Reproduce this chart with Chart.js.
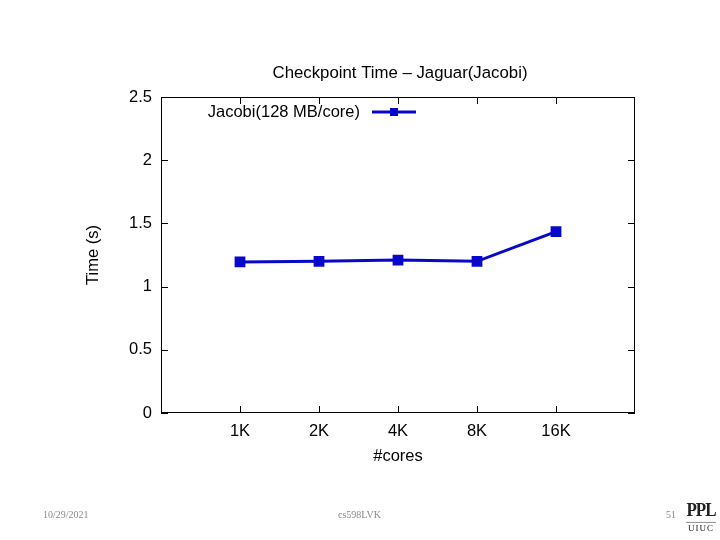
<!DOCTYPE html>
<html>
<head>
<meta charset="utf-8">
<script src="https://cdn.jsdelivr.net/npm/chart.js@4.4.1/dist/chart.umd.min.js"></script>
<style>
  html, body { margin: 0; padding: 0; background: #fff; }
  #wrap { position: relative; width: 720px; height: 540px; overflow: hidden; }
  canvas { position: absolute; left: 0; top: 0; }
  .foot { position: absolute; font-family: "Liberation Serif", "DejaVu Serif", serif; font-size: 10px; line-height: 12px; color: #8a8a8a; }
  #logo { position: absolute; left: 686px; top: 502px; width: 30px; text-align: center; font-family: "Liberation Serif", serif; color: #222; }
  #logo .ppl { font-size: 17px; font-weight: bold; line-height: 17px; letter-spacing: -1px; padding-bottom: 2px; border-bottom: 1px solid #999; transform: scaleY(1.1); }
  #logo .uiuc { font-size: 9px; line-height: 13px; letter-spacing: 1px; }
</style>
</head>
<body>
<div id="wrap">
  <canvas id="chart" width="720" height="540"></canvas>
  <div class="foot" style="left:43px; top:509px;">10/29/2021</div>
  <div class="foot" style="left:338px; top:509px;">cs598LVK</div>
  <div class="foot" style="left:666px; top:509px;">51</div>
  <div id="logo"><div class="ppl">PPL</div><div class="uiuc">UIUC</div></div>
</div>
<script>
// data
const coreLabels = ['1K', '2K', '4K', '8K', '16K'];
const coreSlots = [1, 2, 3, 4, 5];
const checkpointTime = [1.195, 1.20, 1.21, 1.20, 1.435];
const yTicks = [0, 0.5, 1, 1.5, 2, 2.5];

const chartTitle = 'Checkpoint Time \u2013 Jaguar(Jacobi)';
const seriesColor = '#0808cc';
const font = { family: '"Liberation Sans", Arial, Helvetica, sans-serif', size: 16.5 };

// gnuplot style: box around plot with inward ticks on all four sides
const frameTicks = {
    id: 'frameTicks',
    afterDatasetsDraw(chart) {
        const { ctx, chartArea: a, scales } = chart;
        const len = 7;
        ctx.save();
        ctx.strokeStyle = '#000';
        ctx.lineWidth = 1;
        ctx.strokeRect(a.left + 0.5, a.top + 0.5, a.right - a.left - 1, a.bottom - a.top - 1);
        ctx.beginPath();
        coreSlots.forEach(v => {
            const x = Math.round(scales.x.getPixelForValue(v)) + 0.5;
            ctx.moveTo(x, a.bottom); ctx.lineTo(x, a.bottom - len);
            ctx.moveTo(x, a.top); ctx.lineTo(x, a.top + len);
        });
        yTicks.forEach(v => {
            const y = Math.round(scales.y.getPixelForValue(v)) + 0.5;
            ctx.moveTo(a.left, y); ctx.lineTo(a.left + len, y);
            ctx.moveTo(a.right, y); ctx.lineTo(a.right - len, y);
        });
        ctx.stroke();
        ctx.restore();
    }
};

// title centred over the plot box, legend gnuplot style (text, then line sample with marker)
const keyPlugin = {
    id: 'keyPlugin',
    afterDatasetsDraw(chart) {
        const { ctx, chartArea: a } = chart;
        const ds = chart.data.datasets[0];
        ctx.save();
        ctx.fillStyle = '#000';
        ctx.textBaseline = 'middle';
        ctx.font = `16.8px ${font.family}`;
        ctx.textAlign = 'center';
        ctx.fillText(chartTitle, (a.left + a.right) / 2 + 2, a.top - 24);

        const textRight = a.left + 199;
        const y = a.top + 15;
        ctx.font = `${font.size}px ${font.family}`;
        ctx.textAlign = 'right';
        ctx.fillText(ds.label, textRight, y);
        const x0 = textRight + 12, x1 = textRight + 56;
        ctx.strokeStyle = seriesColor;
        ctx.lineWidth = 3;
        ctx.beginPath();
        ctx.moveTo(x0, y); ctx.lineTo(x1, y);
        ctx.stroke();
        ctx.fillStyle = seriesColor;
        ctx.fillRect((x0 + x1) / 2 - 4, y - 4, 8, 8);
        ctx.restore();
    }
};

new Chart(document.getElementById('chart'), {
    type: 'line',
    data: {
        datasets: [{
            label: 'Jacobi(128 MB/core)',
            data: coreSlots.map((x, i) => ({ x: x, y: checkpointTime[i] })),
            borderColor: seriesColor,
            backgroundColor: seriesColor,
            borderWidth: 3,
            pointStyle: 'rect',
            pointRadius: 5.5,
            pointHoverRadius: 5.5,
            tension: 0
        }]
    },
    options: {
        responsive: false,
        animation: false,
        layout: { padding: { left: 84, right: 85, top: 97, bottom: 74 } },
        plugins: {
            legend: { display: false },
            tooltip: { enabled: false },
            title: { display: false }
        },
        scales: {
            x: {
                type: 'linear',
                min: 0,
                max: 6,
                afterBuildTicks: scale => { scale.ticks = coreSlots.map(v => ({ value: v })); },
                afterFit: scale => { scale.height = 53; },
                grid: { display: false, drawTicks: false },
                border: { display: false },
                ticks: {
                    color: '#000',
                    font: font,
                    padding: 9,
                    maxRotation: 0,
                    callback: v => coreLabels[coreSlots.indexOf(v)] || ''
                },
                title: { display: true, text: '#cores', color: '#000', font: font, padding: 0 }
            },
            y: {
                min: 0,
                max: 2.5,
                afterBuildTicks: scale => { scale.ticks = yTicks.map(v => ({ value: v })); },
                afterFit: scale => { scale.width = 77; },
                grid: { display: false, drawTicks: false },
                border: { display: false },
                ticks: { color: '#000', font: font, padding: 9, callback: v => String(v) },
                title: { display: true, text: 'Time (s)', color: '#000', font: font, padding: 0 }
            }
        }
    },
    plugins: [frameTicks, keyPlugin]
});
</script>
</body>
</html>
